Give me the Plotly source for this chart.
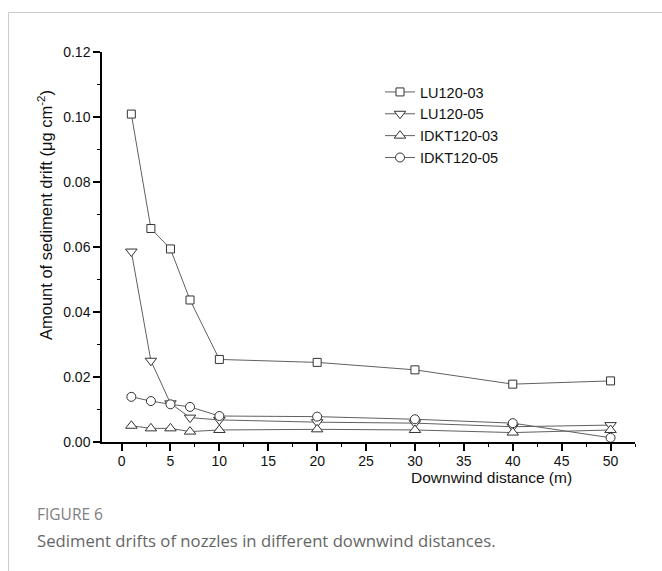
import plotly.graph_objects as go

distance = [1, 3, 5, 7, 10, 20, 30, 40, 50]
lu120_03 = [0.1009, 0.0657, 0.0594, 0.0437, 0.0254, 0.0245, 0.0222, 0.0178, 0.0188]
lu120_05 = [0.0586, 0.0250, 0.0119, 0.0075, 0.0068, 0.0061, 0.0058, 0.0047, 0.0052]
idkt120_03 = [0.0050, 0.0042, 0.0042, 0.0032, 0.0037, 0.0039, 0.0037, 0.0029, 0.0037]
idkt120_05 = [0.0139, 0.0126, 0.0116, 0.0108, 0.0080, 0.0078, 0.0070, 0.0058, 0.0013]

series = [
    ("LU120-03", lu120_03, "square", 8),
    ("LU120-05", lu120_05, "triangle-down", 10),
    ("IDKT120-03", idkt120_03, "triangle-up", 10),
    ("IDKT120-05", idkt120_05, "circle", 9),
]

W, H = 662, 571
L, R, T, B = 102, 27, 52, 129
pw, ph = W - L - R, H - T - B

def px(xp):
    return (xp - L) / pw

def py(yp):
    return (H - B - yp) / ph

fig = go.Figure()
for name, vals, sym, sz in series:
    fig.add_trace(go.Scatter(
        x=distance, y=vals, name=name, mode="lines+markers",
        line=dict(color="#606060", width=1),
        marker=dict(symbol=sym, size=sz, color="white",
                    line=dict(color="#333333", width=1)),
    ))

font = "Liberation Sans, Arial, sans-serif"
fig.update_layout(
    width=W, height=H,
    margin=dict(l=L, r=R, t=T, b=B, pad=0),
    paper_bgcolor="white", plot_bgcolor="white",
    font=dict(family=font, size=14, color="#111111"),
    showlegend=True,
    legend=dict(x=px(380), y=py(76), xanchor="left", yanchor="top",
                bgcolor="rgba(0,0,0,0)", font=dict(size=14.5, color="#111111"),
                itemwidth=30, tracegroupgap=0),
    xaxis=dict(range=[-2, 52.5], showgrid=False, zeroline=False,
               showline=True, linecolor="black", linewidth=1.5,
               ticks="outside", ticklen=7, tickwidth=1.5, tickcolor="black",
               dtick=5, tick0=0, ticklabelstandoff=-2,
               minor=dict(ticks="outside", ticklen=3.5, dtick=2.5, tick0=0,
                          tickcolor="black", tickwidth=1.2),
               tickfont=dict(size=14, color="#111111")),
    yaxis=dict(range=[0, 0.12], showgrid=False, zeroline=False,
               showline=True, linecolor="black", linewidth=1.5,
               ticks="outside", ticklen=7, tickwidth=1.5, tickcolor="black",
               dtick=0.02, tick0=0, tickformat=".2f",
               minor=dict(ticks="outside", ticklen=3.5, dtick=0.01, tick0=0,
                          tickcolor="black", tickwidth=1.2),
               tickfont=dict(size=14, color="#111111")),
)

fig.add_annotation(text="Downwind distance (m)", x=px(491.5), y=py(477.5),
                   xref="paper", yref="paper", xanchor="center", yanchor="middle",
                   showarrow=False,
                   font=dict(size=15.5, color="#111111", family=font))
fig.add_annotation(text="Amount of sediment drift (μg cm<sup>-2</sup>)",
                   x=px(45), y=py(215), xref="paper", yref="paper",
                   xanchor="center", yanchor="middle",
                   showarrow=False, textangle=-90,
                   font=dict(size=16.5, color="#111111", family=font))

cap_font = "Open Sans, Noto Sans, sans-serif"
fig.add_annotation(text="FIGURE 6", x=px(35), y=py(514), xref="paper", yref="paper",
                   xanchor="left", yanchor="middle", showarrow=False,
                   font=dict(size=15.5, color="#808080", family=cap_font))
fig.add_annotation(text="Sediment drifts of nozzles in different downwind distances.",
                   x=px(35), y=py(540), xref="paper", yref="paper",
                   xanchor="left", yanchor="middle", showarrow=False,
                   font=dict(size=16.7, color="#666666", family=cap_font))

# light frame (left and top edges)
fig.add_shape(type="line", xref="paper", yref="paper",
              x0=px(8.5), x1=px(8.5), y0=py(12.5), y1=py(580),
              line=dict(color="#cccccc", width=1))
fig.add_shape(type="line", xref="paper", yref="paper",
              x0=px(8.5), x1=px(680), y0=py(12.5), y1=py(12.5),
              line=dict(color="#cccccc", width=1))

fig.write_html("out.html", config={"displayModeBar": False},
               post_script="document.body.style.margin='0';document.body.style.overflow='hidden';")
